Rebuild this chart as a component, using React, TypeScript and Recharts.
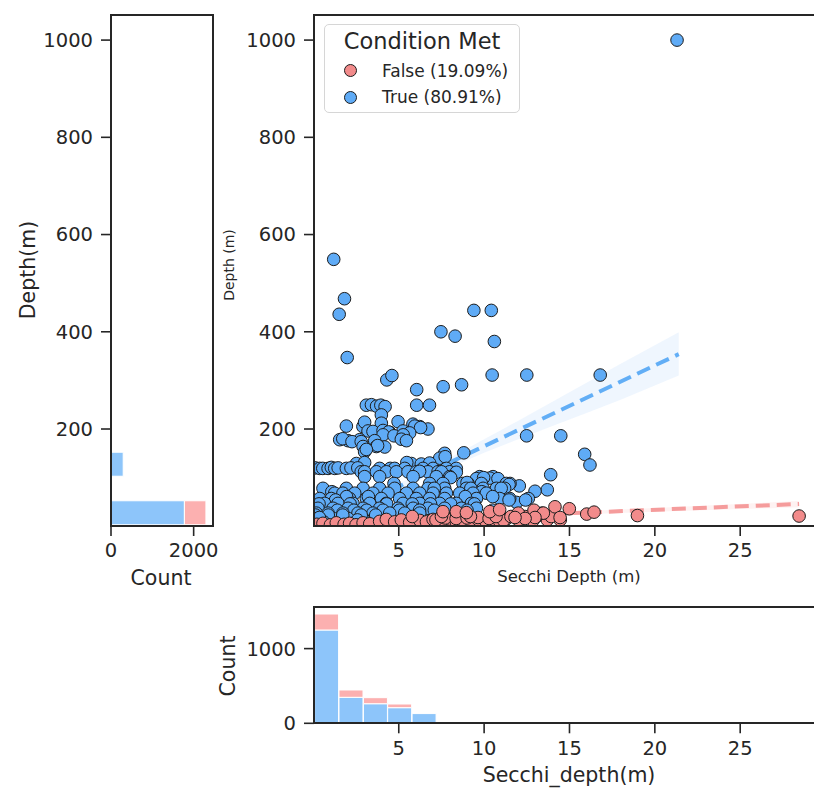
import React from 'react';
import { ComposedChart, BarChart, Bar, Scatter, Line, Area, XAxis, YAxis } from 'recharts';

const FONT = '"DejaVu Sans", Verdana, sans-serif';
const INK = '#262626';
const BLUE = '#5fabf6';
const PINK = '#f28b8b';
const BLUE_BAR = '#8dc5fa';
const PINK_BAR = '#fcb0b0';
const EDGE = '#1c1c1c';

// scatter points: [secchi depth (m), depth (m)]
const TRUE_POINTS: [number, number][] = [
  [21.3, 1000], [1.19, 549], [1.82, 468], [1.51, 436], [1.98, 347], [9.4, 444], [10.42, 444], [7.47, 400], [8.3, 391], [10.6, 380],
  [4.3, 301], [4.6, 310], [6.05, 281], [7.6, 287], [8.68, 291], [10.47, 311], [12.5, 311], [16.8, 311],
  [12.49, 186], [14.49, 186], [15.89, 148], [16.2, 126], [13.9, 106], [13.7, 75], [12.98, 72], [12.59, 57], [12.06, 83], [11.52, 88], [11.9, 49], [8.81, 151],
  [3.1, 249], [3.4, 250], [3.7, 247], [3.95, 249], [4.2, 246], [6.05, 249], [6.8, 249], [3.98, 229],
  [1.93, 206], [2.9, 205], [3.98, 212], [4.96, 215], [5.83, 210], [6.22, 205], [6.71, 200], [3.0, 214], [5.94, 206], [6.28, 203],
  [3.2, 196], [3.49, 195], [4.08, 197], [4.47, 193], [5.25, 196], [5.64, 192], [4.4, 194],
  [4.08, 188], [4.72, 186], [5.26, 188],
  [1.54, 178], [2.03, 176], [2.71, 178], [3.59, 176], [5.15, 179], [5.45, 176], [1.72, 180], [2.26, 174], [2.8, 174],
  [2.91, 164], [3.69, 164], [4.18, 163], [3.76, 166], [3.0, 153], [3.1, 158],
  [7.69, 150], [7.4, 140], [7.72, 143],
  [2.52, 129], [3.0, 131], [5.74, 129], [6.32, 128], [6.81, 130], [5.47, 131],
  [0.1, 120], [0.37, 119], [0.55, 119], [0.86, 119], [1.05, 121], [1.25, 119], [1.45, 120], [1.93, 119], [2.2, 120], [2.6, 120],
  [3.88, 119], [4.5, 119], [4.76, 119], [5.35, 119], [6.42, 119], [7.01, 119], [7.79, 119], [8.37, 119],
  [2.8, 112], [3.0, 112], [3.69, 112], [4.27, 112], [4.86, 112], [5.54, 112], [6.03, 112], [6.71, 112], [7.3, 112], [7.98, 112], [8.37, 111], [6.22, 113], [7.5, 112],
  [3.0, 102], [3.88, 102], [5.84, 102], [7.2, 102], [7.98, 102], [9.74, 102], [10.52, 102], [9.55, 98], [10.33, 99], [10.81, 98], [8.04, 100], [9.97, 100],
  [4.72, 88], [6.81, 88], [7.59, 88], [8.76, 88], [9.06, 88], [9.84, 88], [11.3, 88], [9.0, 90], [11.46, 86],
  [0.56, 78], [1.93, 78], [2.91, 78], [3.88, 78], [4.76, 78], [5.84, 78], [6.71, 78], [7.69, 78], [8.96, 78], [9.94, 78], [10.72, 78], [11.2, 78], [7.08, 78], [9.22, 78], [11.0, 78],
  [1.08, 71], [9.86, 71],
  [1.25, 68], [1.73, 68], [2.42, 68], [3.49, 68], [4.37, 68], [5.45, 68], [6.23, 68], [7.01, 68], [7.79, 68], [8.57, 68], [9.35, 68], [10.13, 68],
  [0.37, 57], [1.05, 57], [2.12, 57], [3.1, 57], [3.98, 57], [5.05, 57], [6.03, 57], [6.81, 57], [7.69, 57], [8.96, 57], [9.55, 57], [10.91, 57], [11.5, 57],
  [1.94, 61], [3.22, 61], [8.9, 61], [10.5, 61], [1.3, 54], [11.46, 54], [12.43, 54],
  [0.66, 47], [1.44, 47], [2.32, 47], [3.3, 47], [4.27, 47], [5.25, 47], [6.23, 47], [7.4, 47], [8.37, 47], [9.25, 47],
  [0.33, 46], [2.15, 46], [4.29, 46], [5.79, 46], [6.86, 46], [8.04, 46], [9.43, 46],
  [0.27, 37], [1.15, 37], [2.03, 37], [2.91, 37], [3.88, 37], [4.96, 37], [5.84, 37], [6.71, 37], [7.69, 37], [8.67, 37], [9.55, 37],
  [10.5, 33], [9.0, 33], [1.4, 33], [2.37, 33], [3.12, 33], [4.08, 33], [5.04, 33], [6.22, 33], [7.08, 33],
  [0.17, 27], [0.86, 27], [1.73, 27], [2.61, 27], [3.49, 27], [4.47, 27], [5.35, 27], [6.23, 27],
  [0.37, 16], [1.15, 16], [2.03, 16], [2.91, 16], [0.12, 23], [0.87, 23], [1.72, 23], [2.8, 23], [3.65, 23], [0.33, 13], [2.58, 13],
  [0.1, 5], [0.2, 8], [0.3, 4], [0.15, 12], [0.4, 10], [0.5, 6], [0.25, 3], [0.6, 9], [0.08, 15], [0.35, 18],
];

const FALSE_POINTS: [number, number][] = [
  [0.2, 4], [0.56, 6], [1.0, 3], [1.34, 7], [1.8, 4], [2.12, 6], [2.5, 3], [2.91, 7], [3.3, 5],
  [3.88, 10], [4.27, 14], [4.76, 9], [5.15, 13], [5.64, 8], [6.23, 12], [6.62, 9], [7.01, 14], [7.5, 10], [7.98, 15],
  [8.37, 9], [8.76, 13], [9.25, 10], [9.64, 14], [10.13, 9], [10.62, 13], [10.91, 10], [11.3, 15],
  [7.18, 13], [7.72, 17], [8.36, 16], [9.0, 17], [9.64, 18], [10.29, 16], [11.14, 12], [12.0, 13], [12.86, 12], [13.7, 13], [14.46, 13],
  [5.79, 20], [7.5, 20], [9.2, 20], [10.7, 20], [11.57, 20], [12.4, 20], [13.07, 20], [13.93, 20],
  [7.59, 30], [8.37, 30], [8.96, 28], [10.33, 30], [10.91, 34], [12.0, 27], [13.4, 27], [12.92, 33], [13.47, 27],
  [14.15, 40], [14.99, 36], [14.45, 18], [12.98, 18], [12.4, 16], [11.81, 18], [16.01, 25], [16.44, 29], [18.98, 22], [28.45, 21],
];

// fitted lines and confidence bands
const TRUE_FIT_X = [3.4, 21.4];
const TRUE_FIT_Y = [55, 354];
const TRUE_BAND_X = [3.4, 6, 8, 10, 12, 14, 16, 18, 21.4];
const TRUE_BAND_LO = [50, 91, 121, 151, 179, 206, 233, 260, 310];
const TRUE_BAND_HI = [60, 105, 141, 179, 217, 256, 295, 334, 399];
const FALSE_FIT_X = [0.1, 28.45];
const FALSE_FIT_Y = [5.7, 45.8];
const FALSE_BAND_X = [0.1, 10, 20, 28.45];
const FALSE_BAND_LO = [4, 17.5, 30, 39];
const FALSE_BAND_HI = [7.5, 22, 37.5, 52];

// marginal histograms (bin centres and counts)
const DEPTH_BINS = [27.5, 77.4, 127.3, 177.1, 227.0, 276.9, 326.8, 376.7, 426.5, 476.4, 526.3, 576.2, 626.0, 675.9, 725.8, 775.7, 825.6, 875.4, 925.3, 975.2];
const DEPTH_TRUE = [1776, 0, 295, 7, 6, 3, 3, 0, 4, 1, 1, 1, 0, 0, 0, 0, 0, 0, 0, 1];
const DEPTH_FALSE = [521, 0, 0, 0, 0, 0, 0, 0, 0, 0, 0, 0, 0, 0, 0, 0, 0, 0, 0, 0];
const SECCHI_BINS = [0.78, 2.21, 3.64, 5.06, 6.49, 7.92, 9.34, 10.77, 12.2, 13.62, 15.05, 16.48, 17.9, 19.33, 20.76, 22.18, 23.61, 25.04, 26.46, 27.89];
const SECCHI_TRUE = [1249, 348, 262, 209, 130, 6, 5, 4, 3, 2, 2, 1, 0, 0, 1, 0, 0, 0, 0, 0];
const SECCHI_FALSE = [214, 98, 81, 49, 0, 3, 3, 3, 2, 1, 1, 1, 0, 1, 0, 0, 0, 0, 0, 1];

const DEPTH_TICKS = [200, 400, 600, 800, 1000];
const SECCHI_TICKS = [5, 10, 15, 20, 25];
const COUNT_TICKS_LEFT = [0, 2000];
const COUNT_TICKS_BOTTOM = [0, 1000];
const LEGEND = [
  { label: 'False (19.09%)', color: PINK },
  { label: 'True (80.91%)', color: BLUE },
];

const trueData = TRUE_POINTS.map(([x, y]) => ({ x, y }));
const falseData = FALSE_POINTS.map(([x, y]) => ({ x, y }));
const trueFit = TRUE_FIT_X.map((x, i) => ({ x, y: TRUE_FIT_Y[i] }));
const falseFit = FALSE_FIT_X.map((x, i) => ({ x, y: FALSE_FIT_Y[i] }));
const trueBand = TRUE_BAND_X.map((x, i) => ({ x, band: [TRUE_BAND_LO[i], TRUE_BAND_HI[i]] }));
const falseBand = FALSE_BAND_X.map((x, i) => ({ x, band: [FALSE_BAND_LO[i], FALSE_BAND_HI[i]] }));
const depthHist = DEPTH_BINS.map((depth, i) => ({ depth, t: DEPTH_TRUE[i], f: DEPTH_FALSE[i] }));
const secchiHist = SECCHI_BINS.map((secchi, i) => ({ secchi, t: SECCHI_TRUE[i], f: SECCHI_FALSE[i] }));

const DEPTH_DOMAIN: [number, number] = [0.5, 1051.6];
const SECCHI_DOMAIN: [number, number] = [0.035, 29.85];

const tickStyle = { fill: INK, fontSize: 19.5, fontFamily: FONT };
const tickLine = { stroke: INK, strokeWidth: 1.6 };
const AXIS_W = 85;
const AXIS_H = 40;
const PAD_R = 30;

const dot = (fill: string) => (p: any) => (
  <circle cx={p.cx} cy={p.cy} r={6.3} fill={fill} stroke={EDGE} strokeWidth={1} />
);

const Frame = ({ l, t, w, h }: { l: number; t: number; w: number; h: number }) => (
  <div
    style={{
      position: 'absolute', left: l - 1, top: t - 1, width: w + 2, height: h + 2,
      border: `2px solid ${INK}`, boxSizing: 'border-box', pointerEvents: 'none',
    }}
  />
);

const Text = ({ x, y, size, children, rotate }: any) => (
  <div
    style={{
      position: 'absolute', left: x, top: y, fontSize: size, fontFamily: FONT, color: INK,
      lineHeight: 1, whiteSpace: 'nowrap',
      transform: `translate(-50%, -50%)${rotate ? ' rotate(-90deg)' : ''}`,
    }}
  >
    {children}
  </div>
);

// plot rectangles (page pixels)
const LEFT = { l: 111, t: 15, w: 101.5, h: 511 };
const MAIN = { l: 314, t: 15, w: 509, h: 511 };
const BOTTOM = { l: 314, t: 607, w: 509, h: 116.3 };

export default function App() {
  return (
    <div style={{ position: 'fixed', left: 0, top: 0, width: 814, height: 789, overflow: 'hidden', background: '#fff' }}>
      {/* left marginal histogram */}
      <div style={{ position: 'absolute', left: LEFT.l - AXIS_W, top: LEFT.t }}>
        <BarChart
          width={AXIS_W + LEFT.w + PAD_R}
          height={LEFT.h + AXIS_H}
          data={depthHist}
          layout="vertical"
          margin={{ top: 0, right: PAD_R, bottom: 0, left: 0 }}
        >
          <XAxis type="number" domain={[0, 2456]} ticks={COUNT_TICKS_LEFT} allowDataOverflow axisLine={false}
            tickSize={10} tickMargin={7} height={AXIS_H} tick={tickStyle} tickLine={tickLine} />
          <YAxis type="number" dataKey="depth" domain={DEPTH_DOMAIN} ticks={DEPTH_TICKS} allowDataOverflow reversed
            axisLine={false} tickSize={10} tickMargin={8} width={AXIS_W} tick={tickStyle} tickLine={tickLine} />
          <Bar dataKey="t" stackId="a" fill={BLUE_BAR} stroke="#fff" strokeWidth={1} barSize={24} isAnimationActive={false} />
          <Bar dataKey="f" stackId="a" fill={PINK_BAR} stroke="#fff" strokeWidth={1} barSize={24} isAnimationActive={false} />
        </BarChart>
      </div>

      {/* main scatter */}
      <div style={{ position: 'absolute', left: MAIN.l - AXIS_W, top: MAIN.t }}>
        <ComposedChart width={AXIS_W + MAIN.w} height={MAIN.h + AXIS_H} margin={{ top: 0, right: 0, bottom: 0, left: 0 }}>
          <XAxis type="number" dataKey="x" domain={SECCHI_DOMAIN} ticks={SECCHI_TICKS} allowDataOverflow axisLine={false}
            tickSize={10} tickMargin={7} height={AXIS_H} tick={tickStyle} tickLine={tickLine} />
          <YAxis type="number" dataKey="y" domain={DEPTH_DOMAIN} ticks={DEPTH_TICKS} allowDataOverflow axisLine={false}
            tickSize={10} tickMargin={8} width={AXIS_W} tick={tickStyle} tickLine={tickLine} />
          <Area data={falseBand} dataKey="band" type="linear" stroke="none" fill="rgba(242,139,139,0.18)" isAnimationActive={false} />
          <Line data={falseFit} dataKey="y" type="linear" stroke="#f59c9c" strokeWidth={4} strokeDasharray="14 7" dot={false} isAnimationActive={false} />
          <Scatter data={trueData} shape={dot(BLUE)} isAnimationActive={false} />
          <Scatter data={falseData} shape={dot(PINK)} isAnimationActive={false} />
          <Area data={trueBand} dataKey="band" type="linear" stroke="none" fill="rgba(95,171,246,0.17)" isAnimationActive={false} />
          <Line data={trueFit} dataKey="y" type="linear" stroke="#62aef6" strokeWidth={4} strokeDasharray="14 7" dot={false} isAnimationActive={false} />
        </ComposedChart>
      </div>

      {/* bottom marginal histogram */}
      <div style={{ position: 'absolute', left: BOTTOM.l - AXIS_W, top: BOTTOM.t }}>
        <BarChart width={AXIS_W + BOTTOM.w} height={BOTTOM.h + AXIS_H} data={secchiHist} margin={{ top: 0, right: 0, bottom: 0, left: 0 }}>
          <XAxis type="number" dataKey="secchi" domain={SECCHI_DOMAIN} ticks={SECCHI_TICKS} allowDataOverflow axisLine={false}
            tickSize={10} tickMargin={8} height={AXIS_H} tick={tickStyle} tickLine={tickLine} />
          <YAxis type="number" domain={[0, 1557]} ticks={COUNT_TICKS_BOTTOM} allowDataOverflow axisLine={false}
            tickSize={10} tickMargin={8} width={AXIS_W} tick={tickStyle} tickLine={tickLine} />
          <Bar dataKey="t" stackId="a" fill={BLUE_BAR} stroke="#fff" strokeWidth={1} barSize={24} isAnimationActive={false} />
          <Bar dataKey="f" stackId="a" fill={PINK_BAR} stroke="#fff" strokeWidth={1} barSize={24} isAnimationActive={false} />
        </BarChart>
      </div>

      <Frame {...LEFT} />
      <Frame {...MAIN} />
      <Frame {...BOTTOM} />

      {/* legend */}
      <div
        style={{
          position: 'absolute', left: 324, top: 24, width: 196, height: 89, boxSizing: 'border-box',
          border: '1px solid #d6d6d6', borderRadius: 5, background: 'rgba(255,255,255,0.85)',
        }}
      />
      <Text x={422} y={41} size={22.5}>Condition Met</Text>
      {LEGEND.map((item, i) => (
        <React.Fragment key={item.label}>
          <div
            style={{
              position: 'absolute', left: 350 - 6.5, top: 70.5 + i * 26.5 - 6.5, width: 13, height: 13,
              borderRadius: '50%', background: item.color, border: `1px solid ${EDGE}`, boxSizing: 'border-box',
            }}
          />
          <div
            style={{
              position: 'absolute', left: 382, top: 70.5 + i * 26.5, transform: 'translateY(-50%)',
              fontSize: 17, fontFamily: FONT, color: INK, lineHeight: 1, whiteSpace: 'nowrap',
            }}
          >
            {item.label}
          </div>
        </React.Fragment>
      ))}

      {/* axis titles */}
      <Text x={28} y={270} size={20.5} rotate>Depth(m)</Text>
      <Text x={161} y={578} size={20.5}>Count</Text>
      <Text x={229} y={265} size={14} rotate>Depth (m)</Text>
      <Text x={569} y={577} size={16.5}>Secchi Depth (m)</Text>
      <Text x={228} y={666} size={20.5} rotate>Count</Text>
      <Text x={569} y={775} size={20.5}>Secchi_depth(m)</Text>
    </div>
  );
}
